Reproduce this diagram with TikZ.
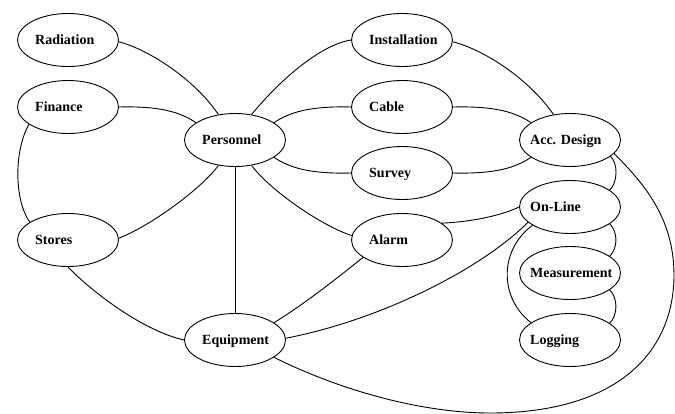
\documentclass[tikz,border=0pt]{standalone}
\usepackage{fontspec}
\setmainfont{Liberation Serif}
\usetikzlibrary{shapes.geometric}
\tikzset{
  ell/.style={draw, ellipse, minimum width=101pt, minimum height=53pt, inner sep=0pt, line width=0.9pt},
  lbl/.style={anchor=base west, inner sep=0pt, font=\fontsize{14}{16}\selectfont\bfseries},
  edge/.style={line width=0.9pt}
}
\newcommand\gnode[5]{\node[ell] (#1) at (#2,#3) {}; \node[lbl] (#1-t) at (#2+#4,#3+4.7) {#5};}
\begin{document}
\begin{tikzpicture}[x=1pt,y=-1pt]
\useasboundingbox (0,0) rectangle (675,413);
\gnode{rad}{68}{40}{-33}{Radiation}
\gnode{fin}{68}{107}{-33}{Finance}
\gnode{sto}{68}{240}{-33}{Stores}
\gnode{per}{235}{140}{-33}{Personnel}
\gnode{equ}{235}{340}{-33}{Equipment}
\gnode{ins}{402}{40}{-33}{Installation}
\gnode{cab}{402}{107}{-33}{Cable}
\gnode{sur}{402}{173}{-33}{Survey}
\gnode{ala}{402}{240}{-33}{Alarm}
\gnode{acc}{570}{140}{-40}{Acc. Design}
\gnode{onl}{570}{207}{-40}{On-Line}
\gnode{mea}{570}{273}{-40}{Measurement}
\gnode{log}{570}{340}{-40}{Logging}
% left part
\draw[edge] (rad.-2) .. controls (150,50) and (195,80) .. (per.123);
\draw[edge] (fin.east) .. controls (160,106) and (180,112) .. (per.156);
\draw[edge] (fin.204) .. controls (14,150) and (14,200) .. (sto.155);
\draw[edge] (sto.2) .. controls (150,226) and (200,190) .. (per.237);
\draw[edge] (per.south) -- (equ.north);
\draw[edge] (sto.south) .. controls (88,288) and (140,330) .. (equ.west);
% personnel to middle column
\draw[edge] (per.57) .. controls (280,80) and (320,45) .. (ins.west);
\draw[edge] (per.24) .. controls (290,112) and (310,106) .. (cab.west);
\draw[edge] (per.-24) .. controls (290,168) and (310,174) .. (sur.west);
\draw[edge] (per.-57) .. controls (270,190) and (320,225) .. (ala.175);
% equipment
\draw[edge] (equ.24) .. controls (300,307) and (335,280) .. (ala.204);
\draw[edge] (equ.2) .. controls (380,320) and (480,270) .. (onl.200);
\draw[edge] (equ.-24) .. controls (350,395) and (430,413) .. (490,413)
  .. controls (620,413) and (674,350) .. (674,275)
  .. controls (674,215) and (640,180) .. (acc.-17);
% middle to right
\draw[edge] (ins.-2) .. controls (485,50) and (530,80) .. (acc.123);
\draw[edge] (cab.east) .. controls (495,106) and (515,112) .. (acc.156);
\draw[edge] (sur.east) .. controls (495,174) and (515,168) .. (acc.204);
\draw[edge] (ala.23) .. controls (470,222) and (500,216) .. (onl.west);
% right column
\draw[edge] (acc.-22) .. controls (618,163) and (618,182) .. (onl.23);
\draw[edge] (onl.-23) .. controls (618,232) and (618,248) .. (mea.23);
\draw[edge] (mea.-23) .. controls (618,298) and (618,315) .. (log.23);
\draw[edge] (onl.206) .. controls (499,250) and (499,298) .. (log.156);
\end{tikzpicture}
\end{document}
